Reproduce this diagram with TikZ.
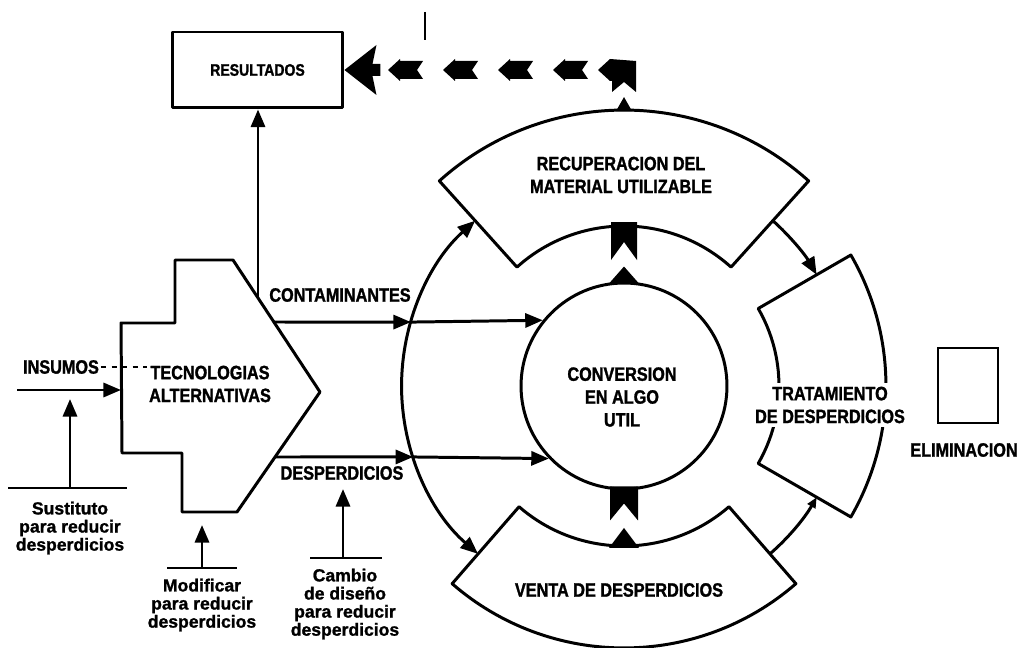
\documentclass[tikz,border=0pt]{standalone}
\usepackage{fontspec}
\setmainfont{Liberation Sans}
\newfontfamily\capsf[FakeStretch=0.84,FakeBold=1.4]{Liberation Sans}
\newfontfamily\smallsf[FakeBold=1.2]{Liberation Sans}
\usetikzlibrary{arrows.meta,calc}

\tikzset{
  ln/.style={line width=1.7pt, line join=round},
  tip/.style={-{Triangle[length=10pt,width=8pt]}},
  smalltip/.style={-{Triangle[length=6pt,width=5pt]}},
  lab/.style={font=\capsf\bfseries\fontsize{11}{13}\selectfont, align=center, inner sep=1pt},
  smalllab/.style={font=\smallsf\bfseries\fontsize{10}{10.3}\selectfont, align=center, inner sep=0pt}
}

\begin{document}
\begin{tikzpicture}[x=0.02cm, y=0.02cm, yscale=-1]
\useasboundingbox (0,0) rectangle (1020,648);

% centre of the ring of processes
\coordinate (C) at (624,386);

% ---------- outline of the "tecnologias alternativas" arrow ----------
\coordinate (p1) at (121,323);
\coordinate (p2) at (175,323);
\coordinate (p3) at (175,260);
\coordinate (p4) at (233,260);
\coordinate (p5) at (320,392);
\coordinate (p6) at (237,512);
\coordinate (p7) at (182,512);
\coordinate (p8) at (182,453);
\coordinate (p9) at (122,453);
\draw[ln] (p1) -- (p2) -- (p3) -- (p4) -- (p5) -- (p6) -- (p7) -- (p8) -- (p9) -- cycle;
\node[lab] (tec) at (210,384) {TECNOLOGIAS\\ALTERNATIVAS};

% ---------- results box ----------
\node[ln, draw, minimum width=3.42cm, minimum height=1.52cm,
      font=\capsf\bfseries\fontsize{9.5}{11}\selectfont] (res) at (257.5,70) {RESULTADOS};
\coordinate (up0) at (258,298);
\draw[ln,tip] (up0) -- (up0 |- res.south);

% stray tick above the return line
\coordinate (tk) at (425,12);
\draw[line width=1.4pt] (tk) -- ++(0,28);

% ---------- inputs ----------
\node[lab] (ins) at (61,367) {INSUMOS};
\coordinate (insA) at (17,390);
\coordinate (insB) at (121,390);
\draw[ln,tip] (insA) -- (insB);
\draw[line width=0.6pt, dashed] (ins.east) -- (ins.east -| tec.west);

% substitution
\node[smalllab] (sus) at (70,528) {Sustituto\\para reducir\\desperdicios};
\coordinate (susb) at (70,488);
\draw[ln] ($(susb)+(-62,0)$) -- ($(susb)+(57,0)$);
\draw[ln,tip] (susb) -- ($(susb |- insA)+(0,9)$);

% modification
\node[smalllab] (mod) at (202,605) {Modificar\\para reducir\\desperdicios};
\coordinate (modb) at (202,568);
\draw[ln] ($(modb)+(-35,0)$) -- ($(modb)+(35,0)$);
\draw[ln,tip] (modb) -- ($(modb |- p7)+(0,13)$);

% design change
\node[smalllab] (cam) at (345,604) {Cambio\\de diseño\\para reducir\\desperdicios};
\coordinate (camb) at (343,558);
\draw[ln] ($(camb)+(-33,0)$) -- ($(camb)+(39,0)$);
\draw[ln,tip] (camb) -- ($(camb)+(0,-69)$);

% ---------- outputs of the process ----------
\node[lab] (cont) at (340,295) {CONTAMINANTES};
\node[lab] (desp) at (342,473) {DESPERDICIOS};

% central circle
\node[ln, draw, circle, minimum size=4.12cm, inner sep=0pt] (conv) at (C) {};
\node[lab] (convt) at (622,397) {CONVERSION\\EN ALGO\\UTIL};

% ring junctions
\coordinate (jc) at ($(C)+(196.7:4.45cm)$);
\coordinate (jd) at ($(C)+(161.4:4.45cm)$);
\coordinate (cs) at (274,322);
\coordinate (ds) at (275,457);
\draw[ln,tip] (cs) -- (jc);
\draw[ln,tip] (jc) -- (conv.141.6);
\draw[ln,tip] (ds) -- (jd);
\draw[ln,tip] (jd) -- (conv.-136.6);

% ---------- sectors ----------
% recovery of usable material
\draw[ln] ($(C)+(-132:3.2cm)$) arc[start angle=-132, end angle=-48, radius=3.2cm]
   -- ($(C)+(-48:5.52cm)$) arc[start angle=-48, end angle=-132, radius=5.52cm] -- cycle;
\node[lab] (rec) at (621,175) {RECUPERACION DEL\\MATERIAL UTILIZABLE};

% sale of waste
\draw[ln] ($(C)+(49:3.2cm)$) arc[start angle=49, end angle=131, radius=3.2cm]
   -- ($(C)+(131:5.24cm)$) arc[start angle=131, end angle=49, radius=5.24cm] -- cycle;
\node[lab] (ven) at (619,590) {VENTA DE DESPERDICIOS};

% waste treatment
\draw[ln] ($(C)+(-30:3.1cm)$) arc[start angle=-30, end angle=30, radius=3.1cm]
   -- ($(C)+(30:5.24cm)$) arc[start angle=30, end angle=-30, radius=5.24cm] -- cycle;
\node[lab, fill=white, inner sep=2pt] (tra) at (830,405) {TRATAMIENTO\\DE DESPERDICIOS};

% ---------- ring arcs ----------
\coordinate (rl) at ($(C)+(180:4.45cm)$);
\draw[ln,tip] (rl) arc[start angle=180, end angle=228, radius=4.45cm];
\draw[ln,tip] (rl) arc[start angle=180, end angle=131, radius=4.45cm];
\coordinate (rr1) at ($(C)+(-48:4.45cm)$);
\coordinate (rr2) at ($(C)+(49:4.45cm)$);
\draw[ln,tip] (rr1) arc[start angle=-48, end angle=-30, radius=4.45cm];
\draw[ln,smalltip] (rr2) arc[start angle=49, end angle=30, radius=4.45cm];

% ---------- heavy links between circle and sectors ----------
\coordinate (recIn) at ($(C)+(-90:3.2cm)$);
\coordinate (venIn) at ($(C)+(90:3.2cm)$);
\fill ($(recIn)+(-13,-4)$) -- ($(recIn)+(13,-4)$) -- ($(recIn)+(13,34)$)
   -- ($(recIn)+(0,16)$) -- ($(recIn)+(-13,34)$) -- cycle;
\fill ($(conv.north)+(-15,2)$) -- ($(conv.north)+(15,2)$) -- ($(conv.north)+(0,-15)$) -- cycle;
\fill ($(conv.south)+(-14,-4)$) -- ($(conv.south)+(14,-4)$) -- ($(conv.south)+(14,30)$)
   -- ($(conv.south)+(0,13)$) -- ($(conv.south)+(-14,30)$) -- cycle;
\fill ($(venIn)+(-15,2)$) -- ($(venIn)+(15,2)$) -- ($(venIn)+(0,-18)$) -- cycle;

% ---------- return line to the results: a chain of darts ----------
\coordinate (recTop) at ($(C)+(-90:5.52cm)$);
\fill ($(recTop)+(-8,1)$) -- ($(recTop)+(8,1)$) -- ($(recTop)+(0,-13)$) -- cycle;
\coordinate (dc) at (recTop |- res.east);
% bent piece at the corner
\fill ($(dc)+(12,22)$) -- ($(dc)+(12,-9)$) -- ($(dc)+(-14,-11)$) -- ($(dc)+(-26,0)$)
   -- ($(dc)+(-14,11)$) -- ($(dc)+(-12,11)$) -- ($(dc)+(-12,22)$) -- ($(dc)+(0,12)$) -- cycle;
% straight darts pointing towards the results box
\foreach \k in {0,...,3}{
  \coordinate (dt) at ($(dc)+(-71-55*\k,0)$);
  \fill (dt) -- ($(dt)+(12,-11)$) -- ($(dt)+(12,-9)$) -- ($(dt)+(35,-9)$) -- ($(dt)+(29,0)$)
     -- ($(dt)+(35,9)$) -- ($(dt)+(12,9)$) -- ($(dt)+(12,11)$) -- cycle;
}
% large head at the box
\fill (res.east) -- ($(res.east)+(32,-25)$) -- ($(res.east)+(28,-6)$) -- ($(res.east)+(36,-6)$)
   -- ($(res.east)+(36,6)$) -- ($(res.east)+(28,6)$) -- ($(res.east)+(32,25)$) -- cycle;

% ---------- elimination ----------
\node[draw, line width=1.3pt, minimum width=1.2cm, minimum height=1.5cm] (elb) at (968,385.5) {};
\node[lab] (eli) at (964,450) {ELIMINACION};

\end{tikzpicture}
\end{document}
